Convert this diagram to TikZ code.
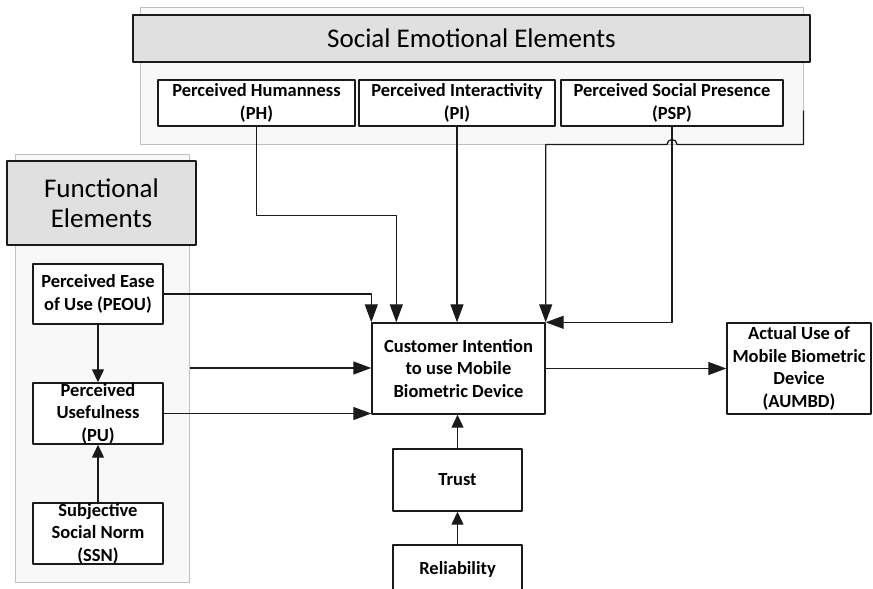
\documentclass[tikz,border=0pt]{standalone}
\usepackage{fontspec}
\setmainfont{Carlito}
\usetikzlibrary{arrows.meta}
\definecolor{panelbg}{HTML}{F8F8F8}
\definecolor{panelline}{HTML}{C0C0C0}
\definecolor{headfill}{HTML}{E0E0E0}
\definecolor{ink}{HTML}{1A1A1A}
\begin{document}
\begin{tikzpicture}[x=1pt,y=-1pt,line join=round,
  panel/.style={draw=panelline,fill=panelbg,line width=1pt,inner sep=0pt},
  head/.style={draw=ink,fill=headfill,line width=1.3pt,inner sep=0pt,align=center,font=\fontsize{27}{30}\selectfont},
  box/.style={draw=ink,fill=white,line width=1.4pt,inner sep=0pt,align=center,font=\bfseries\fontsize{18.5}{22.5}\selectfont},
  arr/.style={draw=ink,line width=1.3pt,-{Triangle[length=18pt,width=13pt]}},
  shortarr/.style={arr,-{Triangle[length=13pt,width=12pt]}}]
  \useasboundingbox (0,0) rectangle (873,589);
  \clip (0,0) rectangle (873,589);
  \node[panel,minimum width=663pt,minimum height=137pt] (SEE) at (471.5,75.5) {};
  \node[head,minimum width=677pt,minimum height=47pt] (SEEhead) at (471.5,38.5) {Social Emotional Elements};
  \node[box,minimum width=197pt,minimum height=46pt] (PH) at (256.5,103) {Perceived Humanness\\(PH)};
  \node[box,minimum width=196pt,minimum height=46pt] (PI) at (457,103) {Perceived Interactivity\\(PI)};
  \node[box,minimum width=222pt,minimum height=46pt] (PSP) at (672,103) {Perceived Social Presence\\(PSP)};
  \node[panel,minimum width=174pt,minimum height=428pt] (FE) at (102,368) {};
  \node[head,minimum width=189pt,minimum height=84pt] (FEhead) at (101.5,203) {Functional\\Elements};
  \node[box,minimum width=130pt,minimum height=60pt] (PEOU) at (98,294) {Perceived Ease\\of Use (PEOU)};
  \node[box,minimum width=130pt,minimum height=61pt] (PU) at (98,413.5) {Perceived\\Usefulness\\(PU)};
  \node[box,minimum width=130pt,minimum height=61pt] (SSN) at (98,533.5) {Subjective\\Social Norm\\(SSN)};
  \node[box,minimum width=173pt,minimum height=91pt] (CI) at (458.5,368.5) {Customer Intention\\to use Mobile\\Biometric Device};
  \node[box,minimum width=144pt,minimum height=91pt] (AUMBD) at (799,368.5) {Actual Use of\\Mobile Biometric\\Device\\(AUMBD)};
  \node[box,minimum width=129pt,minimum height=62pt] (Trust) at (457.5,480) {Trust};
  \node[box,minimum width=129pt,minimum height=48pt] (Rel) at (457.5,569) {Reliability};
  \coordinate (SEEout) at ([yshift=34pt]SEE.south east);
  \coordinate (PHin) at ([xshift=25pt]CI.north west);
  \draw[arr] (SEEout) -- (SEE.south east) -- ([xshift=5pt]PSP.south |- SEE.south)
    arc[start angle=0,end angle=180,radius=5pt] -- (CI.north east |- SEE.south) -- (CI.north east);
  \draw[arr] (PSP.south) |- (CI.north east);
  \draw[arr] (PI.south) -- (PI.south |- CI.north);
  \draw[arr] (PH.south) -- ++(0,89) -| (PHin);
  \draw[arr] (PEOU.east) -| (CI.north west);
  \draw[arr] (FE.east) -- (FE.east -| CI.west);
  \draw[arr] (PU.east) -- (PU.east -| CI.west);
  \draw[arr] (CI) -- (AUMBD);
  \draw[shortarr] (PEOU) -- (PU);
  \draw[shortarr] (SSN) -- (PU);
  \draw[shortarr] (Trust.north) -- (Trust.north |- CI.south);
  \draw[shortarr] (Rel) -- (Trust);
\end{tikzpicture}
\end{document}
